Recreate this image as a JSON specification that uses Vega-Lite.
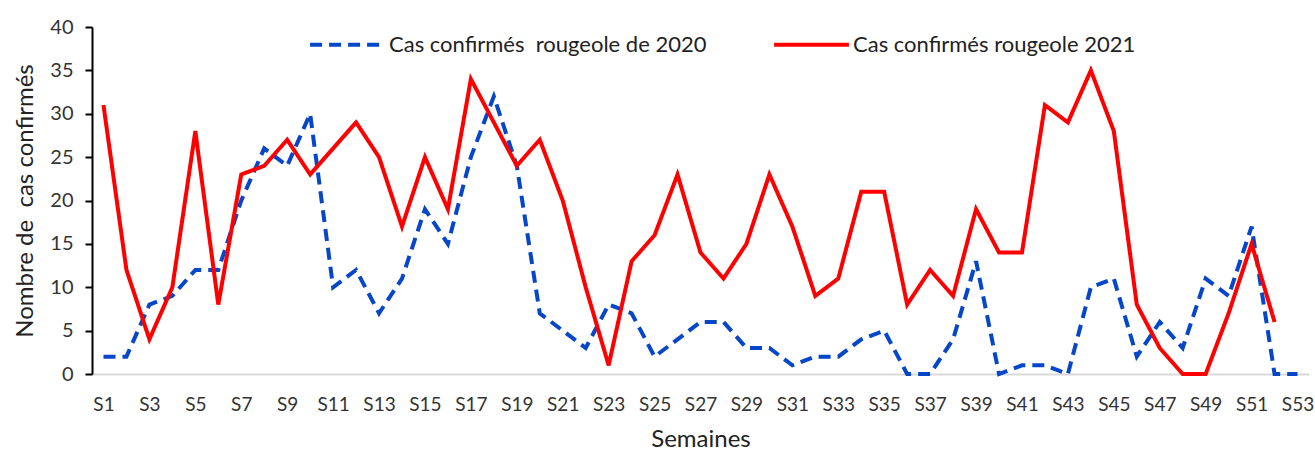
{
  "$schema": "https://vega.github.io/schema/vega-lite/v6.json",
  "width": 1217,
  "height": 347,
  "autosize": {"type": "none"},
  "padding": {"left": 92, "top": 27, "right": 6, "bottom": 81},
  "background": "white",
  "config": {
    "view": {"stroke": null},
    "font": "Lato",
    "axis": {"grid": false, "labelFont": "Lato", "titleFont": "Lato", "labelColor": "#333333", "titleColor": "#222222", "titleFontWeight": "normal"},
    "legend": {"labelFont": "Lato"}
  },
  "datasets": {
    "d2020": [
      {"s": "S1", "v": 2}, {"s": "S2", "v": 2}, {"s": "S3", "v": 8}, {"s": "S4", "v": 9}, {"s": "S5", "v": 12},
      {"s": "S6", "v": 12}, {"s": "S7", "v": 20}, {"s": "S8", "v": 26}, {"s": "S9", "v": 24}, {"s": "S10", "v": 30},
      {"s": "S11", "v": 10}, {"s": "S12", "v": 12}, {"s": "S13", "v": 7}, {"s": "S14", "v": 11}, {"s": "S15", "v": 19},
      {"s": "S16", "v": 15}, {"s": "S17", "v": 25}, {"s": "S18", "v": 32}, {"s": "S19", "v": 24}, {"s": "S20", "v": 7},
      {"s": "S21", "v": 5}, {"s": "S22", "v": 3}, {"s": "S23", "v": 8}, {"s": "S24", "v": 7}, {"s": "S25", "v": 2},
      {"s": "S26", "v": 4}, {"s": "S27", "v": 6}, {"s": "S28", "v": 6}, {"s": "S29", "v": 3}, {"s": "S30", "v": 3},
      {"s": "S31", "v": 1}, {"s": "S32", "v": 2}, {"s": "S33", "v": 2}, {"s": "S34", "v": 4}, {"s": "S35", "v": 5},
      {"s": "S36", "v": 0}, {"s": "S37", "v": 0}, {"s": "S38", "v": 4}, {"s": "S39", "v": 13}, {"s": "S40", "v": 0},
      {"s": "S41", "v": 1}, {"s": "S42", "v": 1}, {"s": "S43", "v": 0}, {"s": "S44", "v": 10}, {"s": "S45", "v": 11},
      {"s": "S46", "v": 2}, {"s": "S47", "v": 6}, {"s": "S48", "v": 3}, {"s": "S49", "v": 11}, {"s": "S50", "v": 9},
      {"s": "S51", "v": 17}, {"s": "S52", "v": 0}, {"s": "S53", "v": 0}
    ],
    "d2021": [
      {"s": "S1", "v": 31}, {"s": "S2", "v": 12}, {"s": "S3", "v": 4}, {"s": "S4", "v": 10}, {"s": "S5", "v": 28},
      {"s": "S6", "v": 8}, {"s": "S7", "v": 23}, {"s": "S8", "v": 24}, {"s": "S9", "v": 27}, {"s": "S10", "v": 23},
      {"s": "S11", "v": 26}, {"s": "S12", "v": 29}, {"s": "S13", "v": 25}, {"s": "S14", "v": 17}, {"s": "S15", "v": 25},
      {"s": "S16", "v": 19}, {"s": "S17", "v": 34}, {"s": "S18", "v": 29}, {"s": "S19", "v": 24}, {"s": "S20", "v": 27},
      {"s": "S21", "v": 20}, {"s": "S22", "v": 10}, {"s": "S23", "v": 1}, {"s": "S24", "v": 13}, {"s": "S25", "v": 16},
      {"s": "S26", "v": 23}, {"s": "S27", "v": 14}, {"s": "S28", "v": 11}, {"s": "S29", "v": 15}, {"s": "S30", "v": 23},
      {"s": "S31", "v": 17}, {"s": "S32", "v": 9}, {"s": "S33", "v": 11}, {"s": "S34", "v": 21}, {"s": "S35", "v": 21},
      {"s": "S36", "v": 8}, {"s": "S37", "v": 12}, {"s": "S38", "v": 9}, {"s": "S39", "v": 19}, {"s": "S40", "v": 14},
      {"s": "S41", "v": 14}, {"s": "S42", "v": 31}, {"s": "S43", "v": 29}, {"s": "S44", "v": 35}, {"s": "S45", "v": 28},
      {"s": "S46", "v": 8}, {"s": "S47", "v": 3}, {"s": "S48", "v": 0}, {"s": "S49", "v": 0}, {"s": "S50", "v": 7},
      {"s": "S51", "v": 15}, {"s": "S52", "v": 6}
    ]
  },
  "encoding": {
    "x": {
      "field": "s", "type": "ordinal", "title": "Semaines",
      "scale": {"type": "point", "padding": 0.5, "domain": ["S1","S2","S3","S4","S5","S6","S7","S8","S9","S10","S11","S12","S13","S14","S15","S16","S17","S18","S19","S20","S21","S22","S23","S24","S25","S26","S27","S28","S29","S30","S31","S32","S33","S34","S35","S36","S37","S38","S39","S40","S41","S42","S43","S44","S45","S46","S47","S48","S49","S50","S51","S52","S53"]},
      "axis": {
        "values": ["S1","S3","S5","S7","S9","S11","S13","S15","S17","S19","S21","S23","S25","S27","S29","S31","S33","S35","S37","S39","S41","S43","S45","S47","S49","S51","S53"],
        "labelAngle": 0, "ticks": false, "labelFontSize": 19, "labelPadding": 21,
        "domainColor": "#d9d9d9", "domainWidth": 2, "titleFontSize": 24, "titlePadding": 13
      }
    },
    "y": {
      "field": "v", "type": "quantitative", "title": "Nombre de\u00a0 cas confirmés",
      "scale": {"domain": [0, 40]},
      "axis": {
        "values": [0,5,10,15,20,25,30,35,40], "labelFontSize": 20, "tickSize": 7, "tickColor": "black", "tickWidth": 2,
        "domainColor": "black", "domainWidth": 2, "labelPadding": 12, "titleFontSize": 24, "titlePadding": 12
      }
    },
    "color": {
      "field": "serie", "type": "nominal", "title": null,
      "scale": {"domain": ["Cas confirmés\u00a0 rougeole de 2020", "Cas confirmés rougeole 2021"], "range": ["#0646C8", "#FF0000"]},
      "legend": {
        "orient": "none", "direction": "horizontal", "legendX": 216, "legendY": -22,
        "symbolType": "stroke", "symbolSize": 5600, "symbolStrokeWidth": 4,
        "labelFontSize": 22, "labelColor": "#222222", "columnPadding": 59, "labelOffset": 2, "labelLimit": 500
      }
    },
    "strokeDash": {
      "field": "serie", "type": "nominal", "title": null,
      "scale": {"domain": ["Cas confirmés\u00a0 rougeole de 2020", "Cas confirmés rougeole 2021"], "range": [[12, 7], [1, 0]]},
      "legend": null
    }
  },
  "layer": [
    {
      "data": {"name": "d2020"},
      "transform": [{"calculate": "'Cas confirmés\u00a0 rougeole de 2020'", "as": "serie"}],
      "mark": {"type": "line", "strokeWidth": 4}
    },
    {
      "data": {"name": "d2021"},
      "transform": [{"calculate": "'Cas confirmés rougeole 2021'", "as": "serie"}],
      "mark": {"type": "line", "strokeWidth": 4}
    }
  ]
}
